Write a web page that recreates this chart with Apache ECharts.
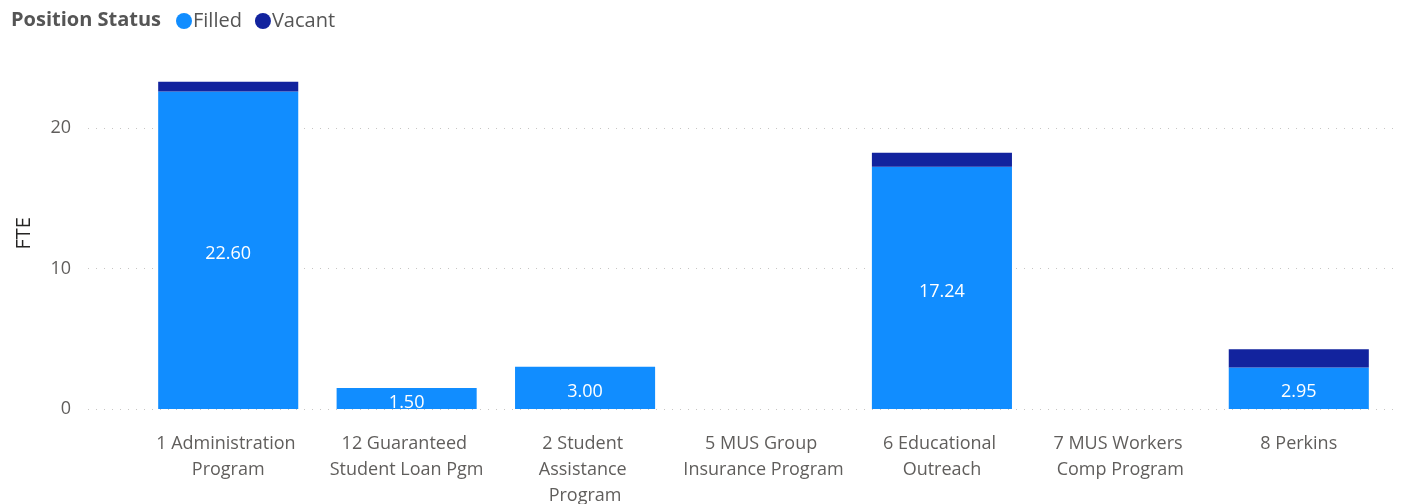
<!DOCTYPE html>
<html>
<head>
<meta charset="utf-8">
<script src="https://cdn.jsdelivr.net/npm/echarts@6/dist/echarts.min.js"></script>
<style>
  html, body { margin: 0; padding: 0; background: #fff; }
  #chart { width: 1406px; height: 504px; }
</style>
</head>
<body>
<div id="chart"></div>
<script>
// FTE by program, split into filled and vacant positions
const categories = [
  '1 Administration Program',
  '12 Guaranteed Student Loan Pgm',
  '2 Student Assistance Program',
  '5 MUS Group Insurance Program',
  '6 Educational Outreach',
  '7 MUS Workers Comp Program',
  '8 Perkins'
];
const filled = [22.60, 1.50, 3.00, null, 17.24, null, 2.95];
const vacant = [0.70, null, null, null, 1.00, null, 1.30];
const yTicks = [0, 10, 20];

const FONT = '"Segoe UI", "Open Sans", "Noto Sans", sans-serif';
const yMin = 0, yMax = 25;

const chart = echarts.init(document.getElementById('chart'), null, { renderer: 'canvas' });

chart.setOption({
  animation: false,
  textStyle: { fontFamily: FONT },
  title: {
    text: 'Position Status',
    left: 6, top: 5,
    textStyle: { fontFamily: FONT, fontSize: 20, fontWeight: 'bold', color: '#555' }
  },
  legend: {
    left: 171, top: 6,
    icon: 'circle',
    itemWidth: 16, itemHeight: 16, itemGap: 13,
    textStyle: { fontFamily: FONT, fontSize: 20, color: '#555', padding: [0, 0, 0, -4] },
    data: ['Filled', 'Vacant']
  },
  grid: [
    // full-width grid carrying the value axis and its dotted gridlines
    { left: 88, right: 11, top: 57.75, bottom: 95, containLabel: false, outerBoundsMode: 'none' },
    // inner grid carrying the categories and the bars
    { left: 139, right: 18, top: 57.75, bottom: 95, containLabel: false, outerBoundsMode: 'none' }
  ],
  xAxis: [
    { gridIndex: 0, type: 'value', show: false, min: 0, max: 1 },
    {
      gridIndex: 1, type: 'category', data: categories,
      axisLine: { show: false }, axisTick: { show: false },
      axisLabel: {
        interval: 0, margin: 22, width: 161, overflow: 'break',
        fontFamily: FONT, fontSize: 18, color: '#605E5C', lineHeight: 26
      }
    }
  ],
  yAxis: [
    {
      gridIndex: 0, type: 'value', min: yMin, max: yMax, interval: 10,
      name: 'FTE', nameLocation: 'middle', nameGap: 54, nameRotate: 90,
      nameTextStyle: { fontFamily: FONT, fontSize: 20, color: '#252423' },
      axisLine: { show: false }, axisTick: { show: false },
      axisLabel: {
        margin: 17, fontFamily: FONT, fontSize: 18, color: '#605E5C',
        formatter: v => (yTicks.indexOf(v) >= 0 ? String(v) : '')
      },
      splitLine: { showMaxLine: false, lineStyle: { color: '#C8C6C4', type: [1, 7], width: 1 } }
    },
    {
      gridIndex: 1, type: 'value', min: yMin, max: yMax, interval: 10, show: false
    }
  ],
  series: [
    {
      name: 'Filled', type: 'bar', stack: 'fte',
      xAxisIndex: 1, yAxisIndex: 1,
      data: filled, barWidth: '78.5%',
      itemStyle: { color: '#118DFF' },
      label: {
        show: true, position: 'inside', offset: [0, 4], color: '#fff',
        fontFamily: FONT, fontSize: 18,
        formatter: p => p.value.toFixed(2)
      }
    },
    {
      name: 'Vacant', type: 'bar', stack: 'fte',
      xAxisIndex: 1, yAxisIndex: 1,
      data: vacant, barWidth: '78.5%',
      itemStyle: { color: '#12239E' }
    }
  ]
});
</script>
</body>
</html>
